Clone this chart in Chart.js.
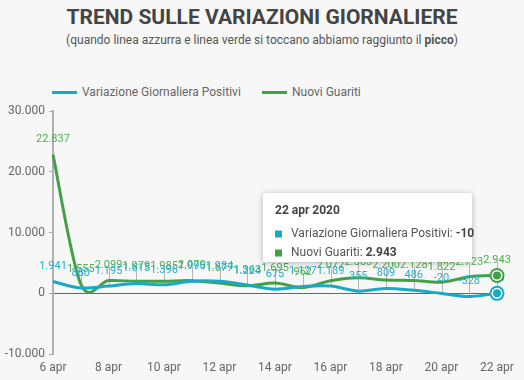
<!DOCTYPE html>
<html>
<head>
<meta charset="utf-8">
<script src="https://cdn.jsdelivr.net/npm/chart.js@4/dist/chart.umd.min.js"></script>
<style>
  html, body { margin:0; padding:0; }
  body { width:524px; height:380px; overflow:hidden; background:#f7f7f7; font-family: Roboto, "Open Sans", sans-serif; position:relative; }
  #title { position:absolute; top:4px; left:0; width:524px; text-align:center; font-weight:700; font-size:21px; line-height:26px; color:#444; }
  #sub { position:absolute; top:31px; left:0; width:524px; text-align:center; font-size:12px; line-height:18px; color:#555; }
  .lg-line { position:absolute; top:91px; width:25px; height:3px; }
  .lg-text { position:absolute; top:84px; font-size:12px; line-height:16px; color:#666; white-space:nowrap; }
  #c { position:absolute; left:0; top:100px; }
</style>
</head>
<body>
<div id="title">TREND SULLE VARIAZIONI GIORNALIERE</div>
<div id="sub">(quando linea azzurra e linea verde si toccano abbiamo raggiunto il <b>picco</b>)</div>
<div class="lg-line" style="left:52px;background:#17aac7"></div>
<div class="lg-text" style="left:82px">Variazione Giornaliera Positivi</div>
<div class="lg-line" style="left:262px;background:#43a047"></div>
<div class="lg-text" style="left:292px">Nuovi Guariti</div>
<canvas id="c" width="524" height="280"></canvas>
<script>
const days = ['6 apr','7 apr','8 apr','9 apr','10 apr','11 apr','12 apr','13 apr','14 apr','15 apr','16 apr','17 apr','18 apr','19 apr','20 apr','21 apr','22 apr'];
const positivi = [1941, 880, 1195, 1615, 1396, 1996, 1984, 1363, 675, 1127, 1189, 355, 809, 486, -20, -528, -10];
const guariti = [22837, 1555, 2099, 1979, 1985, 2079, 1677, 1224, 1695, 962, 2072, 2563, 2200, 2128, 1822, 2723, 2943];
const yTicks = [-10000, 0, 10000, 20000, 30000];

const BLUE = '#17aac7';
const GREEN = '#43a047';

function fmt(n) {
  const s = Math.abs(Math.round(n)).toString().replace(/\B(?=(\d{3})+(?!\d))/g, '.');
  return (n < 0 ? '-' : '') + s;
}

// uniform Catmull-Rom style smoothing (control points from neighbours / 6)
const catmull = {
  id: 'catmull',
  beforeDatasetDraw(chart, args) {
    const meta = args.meta;
    const line = meta.dataset;
    const pts = meta.data;
    if (!line || !pts || pts.length < 2) return;
    if (line.updateControlPoints) line.updateControlPoints(chart.chartArea, meta.indexAxis || 'x');
    const n = pts.length;
    for (let i = 0; i < n; i++) {
      const p = pts[i];
      const prev = pts[Math.max(0, i - 1)];
      const next = pts[Math.min(n - 1, i + 1)];
      const dx = (next.x - prev.x) / 6, dy = (next.y - prev.y) / 6;
      p.cp1x = p.x - dx; p.cp1y = p.y - dy;
      p.cp2x = p.x + dx; p.cp2y = p.y + dy;
    }
    line._pointsUpdated = true;
    line._path = undefined;
  }
};

const connectors = {
  id: 'connectors',
  beforeDatasetsDraw(chart) {
    const ctx = chart.ctx, x = chart.scales.x, y = chart.scales.y;
    ctx.save();
    ctx.strokeStyle = '#b5b5b5';
    ctx.lineWidth = 1;
    for (let i = 1; i < days.length; i++) {
      const px = Math.round(x.getPixelForValue(i)) + 0.5;
      const y1 = y.getPixelForValue(positivi[i]), y2 = y.getPixelForValue(guariti[i]);
      ctx.beginPath();
      ctx.moveTo(px, Math.min(y1, y2) - 14);
      ctx.lineTo(px, Math.max(y1, y2));
      ctx.stroke();
    }
    ctx.restore();
  }
};

const labelsAndMarkers = {
  id: 'labelsAndMarkers',
  afterDatasetsDraw(chart) {
    const ctx = chart.ctx;
    ctx.save();
    ctx.font = '11px Roboto';
    ctx.textAlign = 'center';
    ctx.textBaseline = 'bottom';
    [1, 0].forEach(di => {
      const meta = chart.getDatasetMeta(di);
      const ds = chart.data.datasets[di];
      ctx.fillStyle = di === 0 ? '#22b0cc' : '#4fae53';
      meta.data.forEach((pt, i) => {
        ctx.fillText(fmt(ds.data[i]), pt.x, pt.y - 9.5);
      });
    });
    [1, 0].forEach(di => {
      const meta = chart.getDatasetMeta(di);
      const pt = meta.data[meta.data.length - 1];
      const col = chart.data.datasets[di].borderColor;
      ctx.beginPath(); ctx.arc(pt.x, pt.y, 7.5, 0, Math.PI * 2); ctx.fillStyle = col; ctx.fill();
      ctx.beginPath(); ctx.arc(pt.x, pt.y, 5.5, 0, Math.PI * 2); ctx.fillStyle = '#fff'; ctx.fill();
      ctx.beginPath(); ctx.arc(pt.x, pt.y, 4, 0, Math.PI * 2); ctx.fillStyle = col; ctx.fill();
    });
    ctx.restore();
  }
};

const fakeTooltip = {
  id: 'fakeTooltip',
  afterDraw(chart) {
    const ctx = chart.ctx;
    const i = days.length - 1;
    const px = chart.scales.x.getPixelForValue(i);
    const w = 209, h = 69;
    const bx = Math.round(px - 25 - w), by = Math.round(chart.chartArea.top + 82);
    ctx.save();
    ctx.shadowColor = 'rgba(0,0,0,0.28)';
    ctx.shadowBlur = 6;
    ctx.shadowOffsetY = 1;
    ctx.fillStyle = '#ffffff';
    ctx.beginPath();
    ctx.roundRect(bx, by, w, h, 2);
    ctx.fill();
    ctx.restore();
    ctx.save();
    ctx.textBaseline = 'middle';
    ctx.textAlign = 'left';
    ctx.fillStyle = '#444';
    ctx.font = 'bold 12px Roboto';
    ctx.fillText('22 apr 2020', bx + 12, by + 18);
    const rows = [
      { c: BLUE, label: 'Variazione Giornaliera Positivi: ', v: fmt(positivi[i]), y: by + 41 },
      { c: GREEN, label: 'Nuovi Guariti: ', v: fmt(guariti[i]), y: by + 60 }
    ];
    rows.forEach(r => {
      ctx.fillStyle = r.c;
      ctx.fillRect(bx + 12, r.y - 3.5, 7, 7);
      ctx.font = '12px Roboto';
      ctx.fillStyle = '#555';
      ctx.fillText(r.label, bx + 28, r.y);
      const lw = ctx.measureText(r.label).width;
      ctx.font = 'bold 12px Roboto';
      ctx.fillStyle = '#444';
      ctx.fillText(r.v, bx + 28 + lw, r.y);
    });
    ctx.restore();
  }
};

new Chart(document.getElementById('c'), {
  type: 'line',
  data: {
    labels: days,
    datasets: [
      { label: 'Variazione Giornaliera Positivi', data: positivi, borderColor: BLUE, backgroundColor: BLUE, borderWidth: 3, tension: 0.4, pointRadius: 0, fill: false },
      { label: 'Nuovi Guariti', data: guariti, borderColor: GREEN, backgroundColor: GREEN, borderWidth: 3, tension: 0.4, pointRadius: 0, fill: false }
    ]
  },
  options: {
    responsive: false,
    devicePixelRatio: 1,
    animation: false,
    layout: { padding: { top: 8, right: 27, left: 0, bottom: 0 } },
    plugins: { legend: { display: false }, tooltip: { enabled: false } },
    scales: {
      x: {
        grid: { display: false, drawTicks: false },
        border: { display: false },
        ticks: {
          autoSkip: false, maxRotation: 0, padding: 7,
          color: '#666', font: { family: 'Roboto', size: 12 },
          callback: function(v, i) { return i % 2 === 0 ? days[i] : ''; }
        },
        afterFit: s => { s.height = 26; }
      },
      y: {
        min: yTicks[0], max: yTicks[yTicks.length - 1],
        afterBuildTicks: s => { s.ticks = yTicks.map(v => ({ value: v })); },
        ticks: { color: '#666', font: { family: 'Roboto', size: 12 }, padding: 4, callback: v => fmt(v) },
        grid: {
          color: c => (c.tick && c.tick.value === 0) ? '#666' : 'rgba(0,0,0,0)',
          tickColor: '#aaa', tickLength: 4, lineWidth: 1
        },
        border: { display: true, color: '#b0b0b0', width: 2 },
        afterFit: s => { s.width = 53; }
      }
    }
  },
  plugins: [catmull, connectors, labelsAndMarkers, fakeTooltip]
});
</script>
</body>
</html>
